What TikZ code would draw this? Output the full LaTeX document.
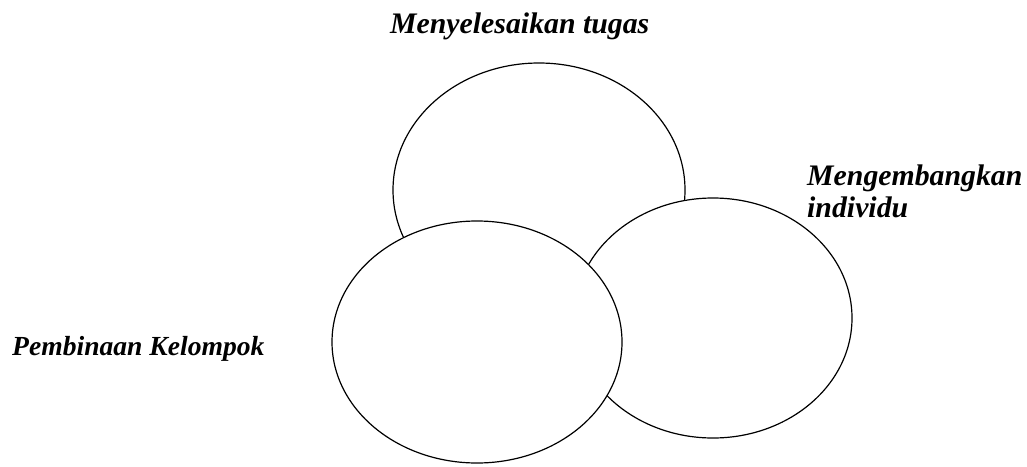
\documentclass[tikz,border=0pt]{standalone}
\usepackage{fontspec}
\setmainfont{Liberation Serif}
\usetikzlibrary{shapes.geometric}
\begin{document}
\begin{tikzpicture}[x=1pt,y=-1pt,
  circ/.style={ellipse, draw=black, fill=white, line width=1.2pt, inner sep=0pt},
  lbl/.style={font=\fontsize{28.5}{32}\selectfont\bfseries\itshape, inner sep=0pt, anchor=base west, align=left}]
\useasboundingbox (0,0) rectangle (1027,466);
\node[circ, minimum width=292pt, minimum height=254pt] (tugas) at (539,190) {};
\node[circ, minimum width=278pt, minimum height=240pt] (individu) at (713,318) {};
\node[circ, minimum width=290pt, minimum height=242pt] (kelompok) at (477,342) {};
\node[lbl, font=\fontsize{29.8}{32}\selectfont\bfseries\itshape] (ltugas) at (390,33) {Menyelesaikan tugas};
\node[lbl, font=\fontsize{29.8}{32}\selectfont\bfseries\itshape] (lindividu) at (807,217) {Mengembangkan\\individu};
\node[lbl, font=\fontsize{27.6}{32}\selectfont\bfseries\itshape] (lkelompok) at (12,355) {Pembinaan Kelompok};
\end{tikzpicture}
\end{document}
